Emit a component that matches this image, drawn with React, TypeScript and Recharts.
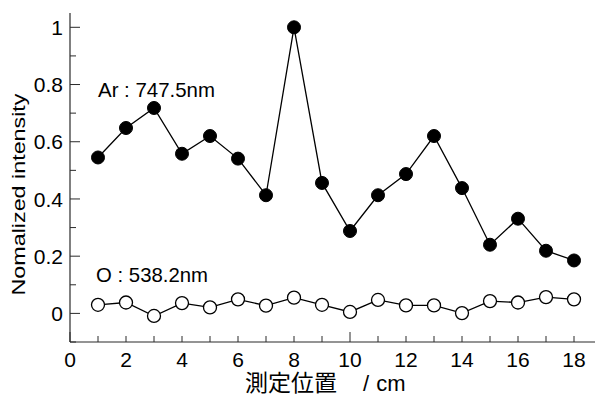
import React from "react";
import {
  ComposedChart,
  Line,
  XAxis,
  YAxis,
  ReferenceDot,
} from "recharts";

// measuring positions (cm)
const positions = [1, 2, 3, 4, 5, 6, 7, 8, 9, 10, 11, 12, 13, 14, 15, 16, 17, 18];
// Ar : 747.5nm normalized intensity
const arIntensity = [
  0.545, 0.648, 0.718, 0.558, 0.62, 0.541, 0.413, 1.0, 0.456, 0.288, 0.413,
  0.487, 0.62, 0.438, 0.24, 0.331, 0.219, 0.185,
];
// O : 538.2nm normalized intensity
const oIntensity = [
  0.03, 0.038, -0.009, 0.036, 0.021, 0.049, 0.027, 0.055, 0.03, 0.005, 0.047,
  0.028, 0.028, 0.001, 0.043, 0.038, 0.057, 0.049,
];

const xTicks = [0, 1, 2, 3, 4, 5, 6, 7, 8, 9, 10, 11, 12, 13, 14, 15, 16, 17, 18];
const yTicks = [-1, 0, 1, 2, 3, 4, 5, 6, 7, 8, 9, 10].map((i) => i / 10);
const yRightTicks = [0, 1];

const X_DOMAIN = [0, 18.75];
const Y_DOMAIN = [-0.1, 1.05];

const FONT = "'Liberation Sans', Arial, sans-serif";
const AXIS_COLOR = "#2a2a2a";

const data = positions.map((pos, i) => ({
  pos,
  ar: arIntensity[i],
  o: oIntensity[i],
}));

function BottomTick(props: any) {
  const { x, y, payload } = props;
  const v = payload.value;
  const len = v % 10 === 0 ? 10 : 6;
  return (
    <g>
      <line x1={x} x2={x} y1={y} y2={y - len} stroke={AXIS_COLOR} strokeWidth={1} />
      {v % 2 === 0 && (
        <text x={x} y={y + 25} textAnchor="middle" fontSize={21} fontFamily={FONT} fill="#000">
          {v}
        </text>
      )}
    </g>
  );
}

function TopTick(props: any) {
  const { x, y, payload } = props;
  const v = payload.value;
  const len = v % 10 === 0 ? 10 : 6;
  return <line x1={x} x2={x} y1={y} y2={y + len} stroke={AXIS_COLOR} strokeWidth={1} />;
}

function LeftTick(props: any) {
  const { x, y, payload } = props;
  const v = payload.value;
  const major = Math.round(v * 10) % 2 === 0 && v >= 0;
  return (
    <g>
      <line x1={x} x2={x + (major ? 10 : 6)} y1={y} y2={y} stroke={AXIS_COLOR} strokeWidth={1} />
      {major && (
        <text x={x - 7} y={y} dy="0.36em" textAnchor="end" fontSize={21} fontFamily={FONT} fill="#000">
          {v}
        </text>
      )}
    </g>
  );
}

function RightTick(props: any) {
  const { x, y } = props;
  return <line x1={x} x2={x - 4} y1={y} y2={y} stroke={AXIS_COLOR} strokeWidth={1.2} />;
}

function YTitle(props: any) {
  const { viewBox } = props;
  const cx = viewBox.x + 25;
  const cy = viewBox.y + viewBox.height / 2 + 17;
  return (
    <text
      x={cx}
      y={cy}
      transform={`rotate(-90 ${cx} ${cy})`}
      textAnchor="middle"
      fontSize={19}
      fontFamily={FONT}
      fill="#000"
      textLength={202}
      lengthAdjust="spacingAndGlyphs"
    >
      Nomalized intensity
    </text>
  );
}

function XTitle(props: any) {
  const { viewBox } = props;
  const left = viewBox.x + 175;
  const base = viewBox.y + 49;
  return (
    <text x={left} y={base} fontSize={23} fill="#000">
      <tspan fontFamily="'Noto Sans CJK JP', sans-serif">測定位置</tspan>
      <tspan fontFamily={FONT} fontSize={22} dx={26}>/</tspan>
      <tspan fontFamily={FONT} fontSize={22} dx={7}>cm</tspan>
    </text>
  );
}

function seriesLabel(text: string, width: number) {
  return (props: any) => {
    const { viewBox } = props;
    return (
      <text
        x={viewBox.x}
        y={viewBox.y}
        fontSize={21}
        fontFamily={FONT}
        fill="#000"
        textLength={width}
        lengthAdjust="spacingAndGlyphs"
      >
        {text}
      </text>
    );
  };
}

export default function App() {
  return (
    <div style={{ position: "absolute", left: 0, top: 0, width: 595, height: 396, background: "#fff" }}>
      <ComposedChart
        width={595}
        height={396}
        data={data}
        margin={{ top: 13, right: 0, left: 0, bottom: 0 }}
      >
        <XAxis
          xAxisId="bottom"
          dataKey="pos"
          type="number"
          domain={X_DOMAIN}
          ticks={xTicks}
          interval={0}
          allowDataOverflow
          height={54}
          tickSize={0}
          tickMargin={0}
          tickLine={false}
          axisLine={{ stroke: AXIS_COLOR, strokeWidth: 1.2 }}
          tick={<BottomTick />}
          label={{ content: <XTitle /> }}
        />
        <XAxis
          xAxisId="top"
          orientation="top"
          dataKey="pos"
          type="number"
          domain={X_DOMAIN}
          ticks={xTicks}
          interval={0}
          allowDataOverflow
          height={0}
          tickSize={0}
          tickMargin={0}
          tickLine={false}
          axisLine={{ stroke: AXIS_COLOR, strokeWidth: 1.2 }}
          tick={<TopTick />}
        />
        <YAxis
          yAxisId="left"
          type="number"
          domain={Y_DOMAIN}
          ticks={yTicks}
          interval={0}
          allowDataOverflow
          width={70}
          tickSize={0}
          tickMargin={0}
          tickLine={false}
          axisLine={{ stroke: AXIS_COLOR, strokeWidth: 1.2 }}
          tick={<LeftTick />}
          label={{ content: <YTitle /> }}
        />
        <YAxis
          yAxisId="right"
          orientation="right"
          type="number"
          domain={Y_DOMAIN}
          ticks={yRightTicks}
          interval={0}
          allowDataOverflow
          width={0}
          tickSize={0}
          tickMargin={0}
          tickLine={false}
          axisLine={{ stroke: AXIS_COLOR, strokeWidth: 1.2 }}
          tick={<RightTick />}
        />
        <Line
          xAxisId="top"
          yAxisId="right"
          dataKey="ar"
          stroke="none"
          dot={false}
          activeDot={false}
          legendType="none"
          isAnimationActive={false}
        />
        <Line
          xAxisId="bottom"
          yAxisId="left"
          type="linear"
          dataKey="o"
          stroke="#000"
          strokeWidth={1.3}
          dot={{ r: 6.5, fill: "#fff", stroke: "#000", strokeWidth: 1.3 }}
          activeDot={false}
          isAnimationActive={false}
        />
        <Line
          xAxisId="bottom"
          yAxisId="left"
          type="linear"
          dataKey="ar"
          stroke="#000"
          strokeWidth={1.3}
          dot={{ r: 6.5, fill: "#000", stroke: "#000", strokeWidth: 1 }}
          activeDot={false}
          isAnimationActive={false}
        />
        <ReferenceDot
          xAxisId="bottom"
          yAxisId="left"
          x={1}
          y={0.756}
          r={0}
          fill="none"
          stroke="none"
          label={{ content: seriesLabel("Ar : 747.5nm", 117) }}
        />
        <ReferenceDot
          xAxisId="bottom"
          yAxisId="left"
          x={0.93}
          y={0.108}
          r={0}
          fill="none"
          stroke="none"
          label={{ content: seriesLabel("O : 538.2nm", 112) }}
        />
      </ComposedChart>
    </div>
  );
}
